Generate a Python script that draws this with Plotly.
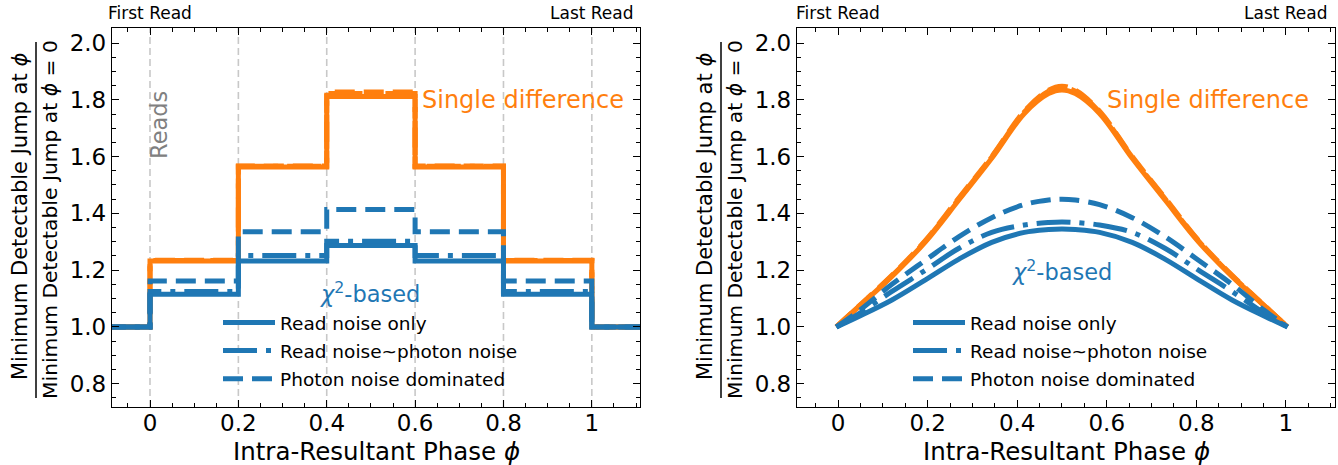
import plotly.graph_objects as go

# ---------------- data ----------------
# Left panel: step functions (value holds from each edge to the next)
step_edges = [-0.1, 0.0, 0.2, 0.4, 0.6, 0.8, 1.0, 1.12]
sd_read_only = [1.0, 1.232, 1.563, 1.812, 1.563, 1.232, 1.0, 1.0]
sd_read_photon = [1.0, 1.234, 1.566, 1.822, 1.566, 1.234, 1.0, 1.0]
sd_photon_dom = [1.0, 1.235, 1.567, 1.828, 1.567, 1.235, 1.0, 1.0]
chi_read_only = [1.0, 1.115, 1.232, 1.287, 1.232, 1.115, 1.0, 1.0]
chi_read_photon = [1.0, 1.125, 1.252, 1.302, 1.252, 1.125, 1.0, 1.0]
chi_photon_dom = [1.0, 1.162, 1.335, 1.414, 1.335, 1.162, 1.0, 1.0]
read_positions = [0.0, 0.2, 0.4, 0.6, 0.8, 1.0]

# Right panel: continuous curves
phase = [-0.004, 0.045, 0.12, 0.195, 0.27, 0.343, 0.416, 0.47, 0.5,
         0.53, 0.584, 0.657, 0.73, 0.805, 0.88, 0.955, 1.004]
c_sd_read_only = [1.0, 1.07, 1.178, 1.30, 1.448, 1.594, 1.752, 1.822, 1.835,
                  1.822, 1.752, 1.594, 1.448, 1.30, 1.178, 1.07, 1.0]
c_sd_read_photon = [1.0, 1.071, 1.18, 1.303, 1.452, 1.598, 1.757, 1.83, 1.843,
                    1.83, 1.757, 1.598, 1.452, 1.303, 1.18, 1.071, 1.0]
c_sd_photon_dom = [1.0, 1.072, 1.182, 1.305, 1.455, 1.60, 1.76, 1.834, 1.848,
                   1.834, 1.76, 1.60, 1.455, 1.305, 1.182, 1.072, 1.0]
c_chi_read_only = [1.0, 1.036, 1.095, 1.166, 1.239, 1.298, 1.333, 1.343, 1.345,
                   1.343, 1.333, 1.298, 1.239, 1.166, 1.095, 1.036, 1.0]
c_chi_read_photon = [1.0, 1.045, 1.125, 1.20, 1.277, 1.333, 1.359, 1.368, 1.37,
                     1.368, 1.359, 1.333, 1.277, 1.20, 1.125, 1.045, 1.0]
c_chi_photon_dom = [1.0, 1.055, 1.15, 1.235, 1.318, 1.385, 1.431, 1.447, 1.45,
                    1.447, 1.431, 1.385, 1.318, 1.235, 1.15, 1.055, 1.0]

legend_names = ["Read noise only", "Read noise~photon noise", "Photon noise dominated"]
x_tickvals = [0, 0.2, 0.4, 0.6, 0.8, 1]
x_ticktext = ["0", "0.2", "0.4", "0.6", "0.8", "1"]
y_tickvals = [0.8, 1.0, 1.2, 1.4, 1.6, 1.8, 2.0]

# ---------------- style ----------------
BLUE = "#1f77b4"
ORANGE = "#ff7f0e"
FONT = "DejaVu Sans"
W, H = 1338, 465
dashes = ["solid", "34px,9px,5px,9px", "20px,9px"]
LW = 5

fig = go.Figure()

sd_left = [sd_read_only, sd_read_photon, sd_photon_dom]
chi_left = [chi_read_only, chi_read_photon, chi_photon_dom]
sd_right = [c_sd_read_only, c_sd_read_photon, c_sd_photon_dom]
chi_right = [c_chi_read_only, c_chi_read_photon, c_chi_photon_dom]

# left panel
for i in range(3):
    fig.add_trace(go.Scatter(x=step_edges, y=sd_left[i], mode="lines", line_shape="hv",
                             line=dict(color=ORANGE, width=LW, dash=dashes[i]),
                             showlegend=False, xaxis="x", yaxis="y", hoverinfo="skip"))
for i in range(3):
    fig.add_trace(go.Scatter(x=step_edges, y=chi_left[i], mode="lines", line_shape="hv",
                             line=dict(color=BLUE, width=LW, dash=dashes[i]),
                             name=legend_names[i], legend="legend", legendgroup="L%d" % i,
                             xaxis="x", yaxis="y", hoverinfo="skip"))
# right panel
for i in range(3):
    fig.add_trace(go.Scatter(x=phase, y=sd_right[i], mode="lines", line_shape="spline",
                             line=dict(color=ORANGE, width=LW, dash=dashes[i]),
                             showlegend=False, xaxis="x2", yaxis="y2", hoverinfo="skip"))
for i in range(3):
    fig.add_trace(go.Scatter(x=phase, y=chi_right[i], mode="lines", line_shape="spline",
                             line=dict(color=BLUE, width=LW, dash=dashes[i]),
                             name=legend_names[i], legend="legend2", legendgroup="R%d" % i,
                             xaxis="x2", yaxis="y2", hoverinfo="skip"))

ydom = [1 - 407 / H, 1 - 28 / H]
xdom1 = [112 / W, 640 / W]
xdom2 = [797 / W, 1335 / W]

def xax(dom, rng, anchor):
    return dict(domain=dom, range=rng, anchor=anchor, showgrid=False, zeroline=False,
                showline=True, linecolor="black", linewidth=1.3, mirror="allticks",
                ticks="inside", ticklen=7, tickwidth=1.2, tickcolor="black",
                tickvals=x_tickvals, ticktext=x_ticktext, ticklabelstandoff=-5,
                tickfont=dict(family=FONT, size=23, color="black"),
                minor=dict(ticks="inside", ticklen=4, tickwidth=1, tickcolor="black", dtick=0.05,
                           tick0=0, showgrid=False))

def yax(rng, anchor):
    return dict(domain=ydom, range=rng, anchor=anchor, showgrid=False, zeroline=False,
                showline=True, linecolor="black", linewidth=1.3, mirror="allticks",
                ticks="inside", ticklen=7, tickwidth=1.2, tickcolor="black",
                tickvals=y_tickvals, tickformat=".1f",
                tickfont=dict(family=FONT, size=23, color="black"),
                minor=dict(ticks="inside", ticklen=4, tickwidth=1, tickcolor="black", dtick=0.05,
                           tick0=0, showgrid=False))

yr = [0.718, 2.053]
leg = dict(xanchor="left", yanchor="top", bgcolor="rgba(0,0,0,0)",
           font=dict(family=FONT, size=18.5, color="black"), itemwidth=52, tracegroupgap=1)
fig.update_layout(
    width=W, height=H, margin=dict(l=0, r=0, t=0, b=0),
    paper_bgcolor="white", plot_bgcolor="white",
    font=dict(family=FONT, color="black"),
    xaxis=xax(xdom1, [-0.086, 1.109], "y"),
    yaxis=yax(yr, "x"),
    xaxis2=xax(xdom2, [-0.092, 1.11], "y2"),
    yaxis2=yax(yr, "x2"),
    legend=dict(x=218 / W, y=1 - 304 / H, **leg),
    legend2=dict(x=908 / W, y=1 - 304 / H, **leg),
)

shapes = []
for xv in read_positions:
    shapes.append(dict(type="line", xref="x", yref="y domain", x0=xv, x1=xv, y0=0, y1=1,
                       line=dict(color="#c8c8c8", width=1.6, dash="7px,4px"), layer="below"))
# fraction bars for y labels
for off in (0, 685):
    shapes.append(dict(type="line", xref="paper", yref="paper",
                       x0=(36 + off) / W, x1=(36 + off) / W, y0=1 - 42 / H, y1=1 - 398 / H,
                       line=dict(color="black", width=1.5)))
fig.update_layout(shapes=shapes)

ann = []
def A(**kw):
    ann.append(dict(showarrow=False, **kw))

for off in (0, 685):
    A(text="Minimum Detectable Jump at <i>ϕ</i>", xref="paper", yref="paper",
      x=(20 + off) / W, y=1 - 217 / H, textangle=-90, xanchor="center", yanchor="middle",
      font=dict(family=FONT, size=21, color="black"))
    A(text="Minimum Detectable Jump at <i>ϕ</i> = 0", xref="paper", yref="paper",
      x=(50 + off) / W, y=1 - 220 / H, textangle=-90, xanchor="center", yanchor="middle",
      font=dict(family=FONT, size=20.3, color="black"))

for xr, center in (("x", 376), ("x2", 1066)):
    A(text="Intra-Resultant Phase <i>ϕ</i>", xref="paper", yref="paper",
      x=center / W, y=1 - 451 / H, xanchor="center", yanchor="middle",
      font=dict(family=FONT, size=24.5, color="black"))
    A(text="First Read", xref=xr, yref="paper", x=0, y=1 - 13 / H,
      xanchor="center", yanchor="middle", font=dict(family=FONT, size=17, color="black"))
    A(text="Last Read", xref=xr, yref="paper", x=1, y=1 - 13 / H,
      xanchor="center", yanchor="middle", font=dict(family=FONT, size=17, color="black"))

A(text="Reads", xref="x", yref="y", x=0.02, y=1.711, textangle=-90,
  xanchor="center", yanchor="middle", font=dict(family=FONT, size=22.5, color="gray"))
A(text="Single difference", xref="x", yref="y", x=0.612, y=1.80, xanchor="left",
  yanchor="middle", font=dict(family=FONT, size=24, color=ORANGE))
A(text="Single difference", xref="x2", yref="y2", x=0.596, y=1.80, xanchor="left",
  yanchor="middle", font=dict(family=FONT, size=24, color=ORANGE))
A(text="<i>χ</i><sup>2</sup>-based", xref="x", yref="y", x=0.497, y=1.123, xanchor="center",
  yanchor="middle", font=dict(family=FONT, size=22.5, color=BLUE))
A(text="<i>χ</i><sup>2</sup>-based", xref="x2", yref="y2", x=0.50, y=1.20, xanchor="center",
  yanchor="middle", font=dict(family=FONT, size=22.5, color=BLUE))
fig.update_layout(annotations=ann)

fig.write_html("out.html", config={"displayModeBar": False},
               post_script="document.body.style.margin='0';")
